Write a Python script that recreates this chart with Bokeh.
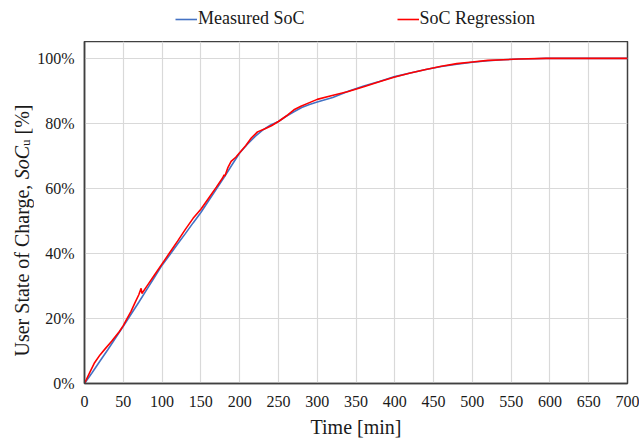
from bokeh.plotting import figure
from bokeh.models import Range1d, Label, Legend, LegendItem, FixedTicker, CustomJSTickFormatter
from bokeh.layouts import row, column
from bokeh.embed import file_html
from bokeh.resources import INLINE
import math

# Measured SoC [min, %]
meas_t = [0, 10, 20, 30, 40, 50, 60, 70, 80, 90, 100, 110, 120, 130, 140, 150, 160, 170, 180, 190,
          200, 210, 220, 230, 240, 250, 260, 270, 280, 290, 300, 320, 340, 360, 380, 400, 420, 440,
          460, 480, 500, 520, 540, 560, 580, 595, 650, 700]
meas_soc = [0, 3.4, 6.9, 10.4, 14.0, 17.6, 21.3, 25.0, 28.8, 32.6, 36.4, 39.6, 42.9, 46.1, 49.4, 52.6,
            56.2, 59.8, 63.4, 67.2, 70.9, 73.6, 76.0, 78.0, 79.5, 80.6, 82.2, 83.6, 84.9, 85.8, 86.6,
            88.0, 89.9, 91.5, 92.9, 94.4, 95.5, 96.6, 97.5, 98.2, 98.8, 99.3, 99.6, 99.8, 99.9, 100,
            100, 100]

# SoC regression [min, %]
reg_t = [0, 3, 7, 13, 20, 26, 35, 45, 50, 55, 60, 65, 70, 73, 74, 80, 90, 100, 110, 120, 130, 140,
         150, 160, 170, 178, 180, 181, 185, 189, 195, 200, 208, 215, 223, 232, 241, 250, 262, 270,
         279, 290, 300, 318, 340, 360, 380, 400, 420, 440, 460, 480, 500, 520, 540, 560, 595, 700]
reg_soc = [0, 1.5, 3.5, 6.4, 8.8, 10.5, 13.0, 16.0, 17.8, 20.0, 22.2, 24.8, 27.3, 29.3, 27.7, 29.8,
           33.3, 36.8, 40.3, 43.8, 47.4, 50.8, 53.6, 57.0, 60.4, 63.2, 64.2, 63.8, 66.5, 68.3, 69.6,
           71.0, 73.2, 75.5, 77.4, 78.3, 79.3, 80.6, 82.6, 84.2, 85.3, 86.4, 87.4, 88.5, 89.8, 91.3,
           92.8, 94.3, 95.5, 96.6, 97.6, 98.4, 98.9, 99.4, 99.6, 99.8, 100, 100]

series_names = ["Measured SoC", "SoC Regression"]
series_colors = ["#4472C4", "#FF0000"]

x_ticks = list(range(0, 701, 50))
y_ticks = [0, 20, 40, 60, 80, 100]

FONT = "Liberation Serif"
TXT = "#1a1a1a"
W, H = 639, 440
TOP = 41
TITLE_W = 34
BODY_H = H - TOP


def blank(fw, fh):
    f = figure(frame_width=fw, frame_height=fh, output_backend="svg", toolbar_location=None,
               title=None, x_range=Range1d(0, fw), y_range=Range1d(0, fh),
               x_axis_type=None, y_axis_type=None, min_border=0)
    f.outline_line_color = None
    f.grid.visible = False
    f.background_fill_color = "white"
    f.border_fill_color = "white"
    return f


# ---- legend strip ----
lf = blank(W, TOP)
dummies = [lf.line(x=[-50, -40], y=[-50, -50], line_color=c, line_width=1.6) for c in series_colors]
legend = Legend(items=[LegendItem(label=n, renderers=[r]) for n, r in zip(series_names, dummies)],
                location=(175, 12), orientation="horizontal",
                border_line_color=None, background_fill_alpha=0,
                padding=0, margin=0, spacing=92, label_standoff=1,
                glyph_width=22, glyph_height=20, label_height=20,
                label_text_font=FONT, label_text_font_size="18px", label_text_color=TXT)
lf.add_layout(legend, "center")

# ---- narrow panel holding the composed y-axis title ----
tp = blank(TITLE_W, BODY_H)
start = 356  # canvas y where the title begins (reads bottom to top)
# (text, style, size, sideways shift, gap before, advance)
pieces = [("User State of Charge,", "normal", "20px", 0, 0, 177.2),
          ("SoC", "italic", "20px", 0, 0, 33.3),
          ("u", "normal", "13px", 4, 0, 6.5),
          ("[%]", "normal", "20px", 0, 5, 30)]
cy = start
for txt, style, size, dx, gap, w in pieces:
    cy -= gap
    tp.add_layout(Label(x=21 + dx, y=BODY_H - (cy - TOP), text=txt, angle=math.pi / 2,
                        text_font=FONT, text_font_style=style, text_font_size=size,
                        text_color=TXT, text_align="left", text_baseline="middle"))
    cy -= w

# ---- main chart ----
p = figure(width=W - TITLE_W, height=BODY_H, output_backend="svg", toolbar_location=None,
           x_range=Range1d(0, 700), y_range=Range1d(0, 105.2),
           min_border_left=83 - TITLE_W, min_border_right=12, min_border_top=0, min_border_bottom=54)
p.background_fill_color = "white"
p.border_fill_color = "white"
p.outline_line_color = "#404040"
p.outline_line_width = 1.5

p.xaxis.ticker = FixedTicker(ticks=x_ticks)
p.yaxis.ticker = FixedTicker(ticks=y_ticks)
p.yaxis.formatter = CustomJSTickFormatter(code="return tick.toFixed(0) + '%';")
for ax in (p.xaxis, p.yaxis):
    ax.axis_line_color = "#404040"
    ax.axis_line_width = 1.5
    ax.major_tick_line_color = None
    ax.minor_tick_line_color = None
    ax.major_tick_out = 0
    ax.major_tick_in = 0
    ax.minor_tick_out = 0
    ax.minor_tick_in = 0
    ax.major_label_text_font = FONT
    ax.major_label_text_font_size = "16px"
    ax.major_label_text_color = TXT
p.xaxis.major_label_standoff = 12
p.yaxis.major_label_standoff = 10
p.xaxis.axis_label = "Time [min]"
p.xaxis.axis_label_text_font = FONT
p.xaxis.axis_label_text_font_size = "20px"
p.xaxis.axis_label_text_font_style = "normal"
p.xaxis.axis_label_text_color = TXT
p.xaxis.axis_label_standoff = 6

p.grid.grid_line_color = "#d9d9d9"
p.grid.grid_line_width = 1.2
p.xgrid.ticker = FixedTicker(ticks=x_ticks)
p.ygrid.ticker = FixedTicker(ticks=y_ticks)

p.line(meas_t, meas_soc, line_color=series_colors[0], line_width=1.6)
p.line(reg_t, reg_soc, line_color=series_colors[1], line_width=1.6)

layout = column(lf, row(tp, p, spacing=0), spacing=0)
open("out.html", "w").write(file_html(layout, INLINE))
